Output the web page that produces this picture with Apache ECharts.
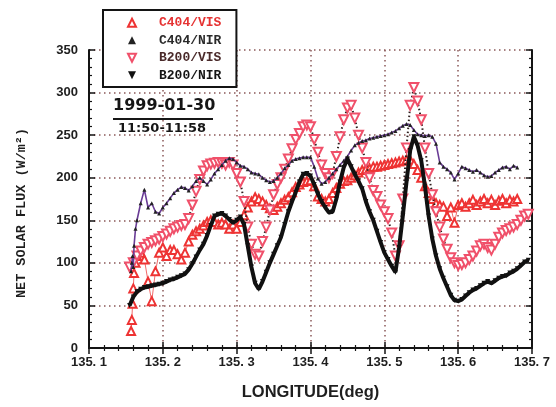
<!DOCTYPE html>
<html>
<head>
<meta charset="utf-8">
<script src="https://cdn.jsdelivr.net/npm/echarts@6/dist/echarts.min.js"></script>
<style>
  html, body { margin: 0; padding: 0; background: #ffffff; }
  #chart { width: 556px; height: 407px; }
</style>
</head>
<body>
<div id="chart"></div>
<script>
// Longitude sampling of the B200 track (deg)
const b200Start = 135.155;
const lonStep = 0.005;

// B200 net solar flux (W/m^2)
const b200Vis = [95,100,108,114,118,122,124,126,128,131, 134,137,140,142,144,145,152,168,184,198,
  208,214,216,217,218,217,215,218,215,205, 195,172,142,122,110,108,125,142,162,180,
  192,200,210,222,234,245,252,260,262,260, 245,230,215,205,200,205,225,248,268,282,
  285,270,250,235,218,200,185,178,168,160, 152,135,108,120,175,235,285,306,290,268,
  235,205,180,160,142,128,116,106,100,97, 98,100,104,108,114,120,122,118,115,122,
  130,135,138,140,142,145,150,155,157];
const b200Nir = [50,60,66,69,71,72,73,74,75,76, 78,80,81,83,85,87,92,99,107,115,
  122,132,144,155,157,158,155,151,147,150, 154,145,120,95,76,69,78,89,100,110,
  120,130,145,160,172,183,195,204,205,202, 192,181,172,165,159,160,175,195,212,222,
  213,204,196,187,172,160,150,137,124,112, 104,96,89,118,155,195,232,248,238,220,
  190,155,128,108,93,82,72,62,56,55, 57,61,65,68,70,73,76,78,76,79,
  82,84,85,88,90,93,97,101,103];

// C404 track: a short burst of samples at the start, then regular sampling
const c404Lead = [135.157, 135.158, 135.159, 135.160, 135.161, 135.163];
const c404Start = 135.165;

// C404 net solar flux (W/m^2)
const c404Vis = [20,33,52,70,88,100,
  108,112,104,78,55,90,112,118,
  108,115,115,110,104,112,125,133,137,140,
  144,148,150,148,145,147,145,140,145,140,
  148,156,165,172,177,175,172,168,164,162,
  166,170,174,177,183,189,192,195,196,197,
  190,178,175,172,175,182,188,193,196,197,
  200,203,206,209,210,211,213,213,214,215,
  216,217,218,219,220,221,221,216,209,200,
  190,182,175,170,168,166,155,165,147,168,
  170,166,170,174,168,172,175,170,174,168,
  173,175,170,174,172,175];
const c404Nir = [90,100,108,95,120,140,
  150,170,186,165,170,160,158,165,
  170,176,182,186,189,188,185,190,196,200,
  196,192,198,205,210,215,220,223,222,218,
  214,213,210,206,205,204,200,197,195,196,
  200,205,211,215,220,222,223,224,224,224,
  213,199,193,195,200,205,210,215,220,225,
  232,238,241,243,244,246,247,248,249,250,
  251,253,255,258,261,263,262,256,251,250,
  249,250,248,240,218,213,210,206,198,205,
  213,211,209,207,209,206,203,201,202,206,
  209,212,213,210,214,212];

// Axis ticks
const lonTicks = { min: 135.1, max: 135.7, interval: 0.1 };
const fluxTicks = { min: 0, max: 350, interval: 50 };

const b200Lon = b200Nir.map((_, i) => +(b200Start + i * lonStep).toFixed(3));
const c404Lon = c404Lead.concat(
  c404Vis.slice(c404Lead.length).map((_, i) => +(c404Start + i * lonStep).toFixed(3))
);
const pairs = (lons, vals) => vals.map((v, i) => [lons[i], v]);

const chart = echarts.init(document.getElementById('chart'), null, { renderer: 'canvas' });

const frameLine = { show: true, lineStyle: { color: '#141414', width: 2 } };
const tickIn = { show: true, inside: true, length: 6, lineStyle: { color: '#141414', width: 1.5 } };
const minorIn = { show: true, splitNumber: 5, length: 3, lineStyle: { color: '#141414', width: 1.2 } };
const dotted = { show: true, lineStyle: { type: [1.5, 3.5], color: '#8a5858', width: 1.5 } };
const labelFont = { fontFamily: 'Liberation Sans', fontWeight: 'bold', fontSize: 13, color: '#1e1e1e' };

chart.setOption({
  backgroundColor: '#ffffff',
  animation: false,
  title: [
    { text: '1999-01-30', left: 113, top: 98, padding: 0,
      textStyle: { fontFamily: 'DejaVu Sans', fontWeight: 'bold', fontSize: 16, color: '#161616' } },
    { text: '11:50-11:58', left: 118, top: 122, padding: 0,
      textStyle: { fontFamily: 'DejaVu Sans', fontWeight: 'bold', fontSize: 13, color: '#161616' } }
  ],
  graphic: [
    { type: 'line', shape: { x1: 113, y1: 119, x2: 213, y2: 119 },
      style: { stroke: '#161616', lineWidth: 2 }, z: 10 },
    { type: 'text', x: 22, y: 213, rotation: Math.PI / 2,
      style: { text: 'NET SOLAR FLUX (W/m²)', align: 'center', verticalAlign: 'middle',
        fontFamily: 'Liberation Mono', fontWeight: 'bold', fontSize: 13.5, fill: '#1e1e1e' } }
  ],
  legend: {
    orient: 'vertical', left: 103, top: 10,
    padding: [6, 15, 5, 6], itemGap: 4, itemWidth: 44, itemHeight: 10,
    backgroundColor: '#ffffff', borderColor: '#141414', borderWidth: 2, borderRadius: 0,
    lineStyle: { opacity: 0 },
    textStyle: { fontFamily: 'Liberation Mono', fontWeight: 'bold', fontSize: 13, lineHeight: 13.5, color: '#222' },
    z: 20,
    data: [
      { name: 'C404/VIS', textStyle: { color: '#e53232' } },
      { name: 'C404/NIR', textStyle: { color: '#2a2a2a' } },
      { name: 'B200/VIS', textStyle: { color: '#4a2a2a' } },
      { name: 'B200/NIR', textStyle: { color: '#141414' } }
    ]
  },
  grid: { left: 89, right: 24, top: 50, bottom: 59 },
  xAxis: [
    { type: 'value', position: 'bottom', ...lonTicks,
      name: 'LONGITUDE(deg)', nameLocation: 'middle', nameGap: 36,
      nameTextStyle: { fontFamily: 'Liberation Sans', fontWeight: 'bold', fontSize: 16.5, color: '#1e1e1e' },
      axisLine: frameLine, axisTick: tickIn, minorTick: minorIn, splitLine: dotted,
      axisLabel: { ...labelFont, margin: 8, formatter: v => v.toFixed(1).replace('.', '. ') } },
    { type: 'value', position: 'top', ...lonTicks,
      axisLine: frameLine, axisTick: tickIn, minorTick: minorIn,
      splitLine: { show: false }, axisLabel: { show: false } }
  ],
  yAxis: [
    { type: 'value', position: 'left', ...fluxTicks,
      axisLine: frameLine, axisTick: tickIn, minorTick: minorIn, splitLine: dotted,
      axisLabel: { ...labelFont, margin: 11 } },
    { type: 'value', position: 'right', ...fluxTicks,
      axisLine: frameLine, axisTick: tickIn, minorTick: minorIn,
      splitLine: { show: false }, axisLabel: { show: false } }
  ],
  series: [
    { name: 'C404/VIS', type: 'line', data: pairs(c404Lon, c404Vis),
      symbol: 'emptyTriangle', symbolSize: 8, showAllSymbol: true,
      itemStyle: { color: '#ee3333', borderWidth: 1.2 },
      lineStyle: { color: '#f26a6a', width: 1 }, z: 2 },
    { name: 'B200/VIS', type: 'line', data: pairs(b200Lon, b200Vis),
      symbol: 'emptyTriangle', symbolRotate: 180, symbolSize: 9, showAllSymbol: true,
      itemStyle: { color: '#f0506a', borderWidth: 1.2 },
      lineStyle: { color: '#2e1e1e', width: 2, type: [1.5, 2.5] }, z: 3 },
    { name: 'C404/NIR', type: 'line', data: pairs(c404Lon, c404Nir),
      symbol: 'triangle', symbolSize: 4, showAllSymbol: true,
      itemStyle: { color: '#222222' },
      lineStyle: { color: '#6a3c96', width: 1.6 }, z: 4 },
    { name: 'B200/NIR', type: 'line', data: pairs(b200Lon, b200Nir),
      symbol: 'triangle', symbolRotate: 180, symbolSize: 5, showAllSymbol: true,
      itemStyle: { color: '#111111' },
      lineStyle: { color: '#111111', width: 4 }, z: 5 }
  ]
});
</script>
</body>
</html>
